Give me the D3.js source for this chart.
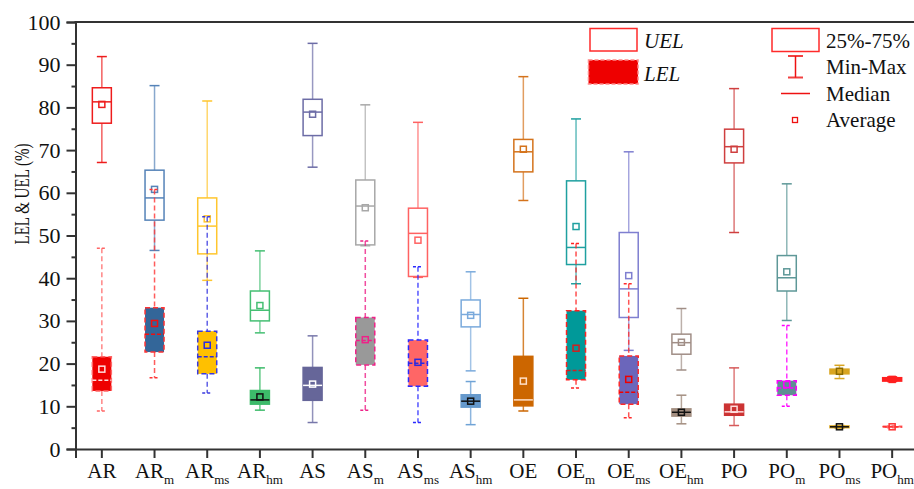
<!DOCTYPE html>
<html lang="en">
<head>
    <meta charset="UTF-8">
    <title>LEL & UEL box plot</title>
    <script src="https://cdnjs.cloudflare.com/ajax/libs/d3/7.8.5/d3.min.js"></script>
    <style>
        body {
            margin: 0;
            background-color: #fff;
        }
        svg text {
            font-family: "Liberation Serif", "Times New Roman", serif;
            fill: #111;
        }
    </style>
</head>
<body>
<svg id="chart" width="914" height="489"></svg>

<script>
// categories (base name + subscript)
const categories = ["AR", "ARm", "ARms", "ARhm", "AS", "ASm", "ASms", "AShm",
                    "OE", "OEm", "OEms", "OEhm", "PO", "POm", "POms", "POhm"];

// UEL statistics (%)
const uelMin    = [67.1, 46.5, 39.5, 27.2, 66.0, 47.6, 40.2, 18.3, 58.2, 38.7, 23.1, 18.5, 50.7, 30.1, 16.5, 15.8];
const uelQ1     = [76.3, 53.6, 45.7, 30.0, 73.4, 47.8, 40.4, 28.6, 64.9, 43.2, 30.8, 22.2, 67.0, 37.0, 17.6, 15.9];
const uelMedian = [81.3, 58.8, 52.2, 32.5, 78.9, 56.9, 50.5, 31.5, 69.6, 47.2, 37.5, 24.9, 70.8, 40.1, 18.2, 16.3];
const uelQ3     = [84.6, 65.3, 58.8, 37.0, 81.9, 63.0, 56.4, 34.9, 72.5, 62.8, 50.7, 26.9, 74.9, 45.3, 18.7, 16.7];
const uelMax    = [91.9, 85.1, 81.5, 46.4, 95.0, 80.6, 76.5, 41.5, 87.2, 77.3, 69.6, 32.9, 84.4, 62.1, 19.6, 16.9];
const uelMean   = [80.7, 60.8, 53.9, 33.6, 78.4, 56.5, 48.9, 31.3, 70.2, 52.1, 40.6, 25.0, 70.2, 41.5, 18.2, 16.3];

// LEL statistics (%)
const lelMin    = [8.9, 16.7, 13.1, 9.1, 6.2, 9.1, 6.2, 5.7, 8.9, 14.3, 7.3, 5.9, 5.5, 10.0, 4.9, 5.0];
const lelQ1     = [13.6, 22.7, 17.6, 10.5, 11.4, 19.7, 14.7, 9.8, 10.1, 16.2, 10.5, 7.7, 7.9, 12.6, 5.0, 5.1];
const lelMedian = [16.1, 26.9, 21.6, 11.5, 14.9, 25.4, 20.1, 11.2, 11.5, 18.4, 13.3, 8.6, 8.7, 14.3, 5.2, 5.2];
const lelQ3     = [21.6, 33.1, 27.6, 13.7, 19.1, 30.8, 25.5, 12.7, 21.7, 32.4, 21.8, 9.4, 10.5, 16.0, 5.4, 5.3];
const lelMax    = [47.0, 60.8, 54.4, 19.0, 26.5, 48.7, 42.7, 15.8, 35.3, 48.1, 38.7, 12.6, 19.0, 28.9, 5.5, 5.4];
const lelMean   = [18.7, 29.4, 24.3, 12.2, 15.2, 25.6, 20.3, 11.2, 15.9, 23.6, 16.3, 8.6, 9.3, 15.1, 5.2, 5.2];

// colours
const uelColor = ["#ee1c1c", "#5583b8", "#ffc62e", "#45bf73", "#6c6ca6", "#a8a8a8", "#ff6262", "#7aaadc",
                  "#d4731c", "#1fa0a0", "#7f7fd0", "#a08e86", "#cf3f3f", "#5e9898", "#d9a521", "#ff2020"];
const lelFill  = ["#ee0000", "#336699", "#ffc000", "#3dbb6a", "#666699", "#999999", "#ff6666", "#6699cc",
                  "#cc6600", "#009999", "#6b66bb", "#a38e80", "#cc3333", "#5f8f93", "#d9a521", "#ff2020"];
const lelLine  = ["#ff6666", "#ff3333", "#3a3ae0", "#3dbb6a", "#7777aa", "#ee2288", "#2a2aff", "#6fa3d6",
                  "#cc6600", "#ff2222", "#ff2a2a", "#a38e80", "#d65a5a", "#ff00ff", "#d9a521", "#ff6666"];
const lelDashed = [true, true, true, false, false, true, true, false,
                   false, true, true, false, false, true, false, true];
const lelMark  = ["#ffdddd", "#ee1111", "#2a2ae0", "#111111", "#ffffff", "#ee2288", "#2a2ae0", "#111111",
                  "#ffe0c8", "#cc2222", "#ee0000", "#111111", "#ffdddd", "#ff00ff", "#111111", "#ff3333"];

const yTicks = d3.range(0, 101, 10);

const svg = d3.select("#chart");
const margin = { top: 22, bottom: 40, left: 75.5 };
const height = 489;

const x = d3.scaleBand().domain(categories).range([margin.left, 918.5]);
const y = d3.scaleLinear().domain([0, 100]).range([height - margin.bottom, margin.top]);
const cx = d => x(d) + x.bandwidth() / 2;
const boxW = 19, capW = 10, meanS = 6;

const rows = categories.map((c, i) => ({
    cat: c,
    uel: { min: uelMin[i], q1: uelQ1[i], med: uelMedian[i], q3: uelQ3[i], max: uelMax[i], mean: uelMean[i] },
    lel: { min: lelMin[i], q1: lelQ1[i], med: lelMedian[i], q3: lelQ3[i], max: lelMax[i], mean: lelMean[i] },
    uc: uelColor[i], lf: lelFill[i], ll: lelLine[i], dash: lelDashed[i], lm: lelMark[i]
}));

// ---- UEL boxes (open) ----
const g = svg.append("g");
rows.forEach(r => {
    const xc = cx(r.cat), s = r.uel;
    const u = g.append("g");
    u.append("line").attr("x1", xc).attr("x2", xc).attr("y1", y(s.max)).attr("y2", y(s.q3))
        .attr("stroke", r.uc).attr("stroke-opacity", 0.7).attr("stroke-width", 1.5);
    u.append("line").attr("x1", xc).attr("x2", xc).attr("y1", y(s.q1)).attr("y2", y(s.min))
        .attr("stroke", r.uc).attr("stroke-opacity", 0.7).attr("stroke-width", 1.5);
    [s.max, s.min].forEach(v => {
        u.append("line").attr("x1", xc - capW / 2).attr("x2", xc + capW / 2).attr("y1", y(v)).attr("y2", y(v))
            .attr("stroke", r.uc).attr("stroke-width", 1.5);
    });
    u.append("rect").attr("x", xc - boxW / 2).attr("y", y(s.q3)).attr("width", boxW)
        .attr("height", Math.max(1, y(s.q1) - y(s.q3)))
        .attr("fill", r.cat === "POms" || r.cat === "POhm" ? r.uc : "none")
        .attr("stroke", r.uc).attr("stroke-width", 1.5);
    u.append("line").attr("x1", xc - boxW / 2).attr("x2", xc + boxW / 2).attr("y1", y(s.med)).attr("y2", y(s.med))
        .attr("stroke", r.uc).attr("stroke-width", 1.5);
    u.append("rect").attr("x", xc - meanS / 2).attr("y", y(s.mean) - meanS / 2).attr("width", meanS).attr("height", meanS)
        .attr("fill", "none").attr("stroke", r.cat === "POms" ? "#8a6a00" : r.uc).attr("stroke-width", 1.5);
});

// ---- LEL boxes (filled) ----
rows.forEach(r => {
    const xc = cx(r.cat), s = r.lel;
    const l = g.append("g");
    const da = r.dash ? "5,3" : null;
    [[s.max, s.q3], [s.q1, s.min]].forEach(([a, b]) => {
        l.append("line").attr("x1", xc).attr("x2", xc).attr("y1", y(a)).attr("y2", y(b))
            .attr("stroke", r.ll).attr("stroke-opacity", 0.8).attr("stroke-width", 1.5)
            .attr("stroke-dasharray", da);
    });
    [s.max, s.min].forEach(v => {
        l.append("line").attr("x1", xc - capW / 2).attr("x2", xc + capW / 2).attr("y1", y(v)).attr("y2", y(v))
            .attr("stroke", r.ll).attr("stroke-width", 1.5).attr("stroke-dasharray", r.dash ? "3,2" : null);
    });
    l.append("rect").attr("x", xc - boxW / 2).attr("y", y(s.q3)).attr("width", boxW)
        .attr("height", Math.max(1, y(s.q1) - y(s.q3)))
        .attr("fill", r.lf).attr("stroke", r.dash ? r.ll : r.lf).attr("stroke-width", 1.5)
        .attr("stroke-dasharray", da);
    l.append("line").attr("x1", xc - boxW / 2).attr("x2", xc + boxW / 2).attr("y1", y(s.med)).attr("y2", y(s.med))
        .attr("stroke", r.lm).attr("stroke-width", 1.5).attr("stroke-dasharray", r.dash ? "4,2" : null);
    l.append("rect").attr("x", xc - meanS / 2).attr("y", y(s.mean) - meanS / 2).attr("width", meanS).attr("height", meanS)
        .attr("fill", "none").attr("stroke", r.lm).attr("stroke-width", 1.5);
});

// ---- axes ----
const axisColor = "#333";
const yAxis = svg.append("g").attr("transform", `translate(${margin.left},0)`)
    .call(d3.axisLeft(y).tickValues(yTicks).tickSize(9).tickPadding(6));
const yMinor = svg.append("g").attr("transform", `translate(${margin.left},0)`)
    .call(d3.axisLeft(y).tickValues(d3.range(5, 100, 10)).tickSize(4).tickFormat(""));
yMinor.select(".domain").remove();
const xAxis = svg.append("g").attr("transform", `translate(0,${y(0)})`)
    .call(d3.axisBottom(x).tickSize(9).tickFormat(""));

[yAxis, yMinor, xAxis].forEach(a => {
    a.selectAll("path, line").attr("stroke", axisColor).attr("stroke-width", 2);
});
yAxis.selectAll("text").attr("font-size", 22).attr("fill", "#111")
    .style("font-family", '"Liberation Serif", serif');

// top frame line
svg.append("line").attr("x1", margin.left - 1).attr("x2", 918.5).attr("y1", y(100)).attr("y2", y(100))
    .attr("stroke", axisColor).attr("stroke-width", 2);

// x labels with subscripts
categories.forEach(c => {
    const t = svg.append("text").attr("x", cx(c)).attr("y", 478)
        .attr("text-anchor", "middle").attr("font-size", 21);
    t.append("tspan").text(c.slice(0, 2));
    if (c.length > 2) {
        t.append("tspan").attr("font-size", 13).attr("dy", 6).text(c.slice(2));
    }
});

// y axis title
svg.append("text")
    .attr("transform", `translate(29,194) rotate(-90)`)
    .attr("text-anchor", "middle")
    .attr("font-size", 20)
    .attr("textLength", 101)
    .attr("lengthAdjust", "spacingAndGlyphs")
    .text("LEL & UEL (%)");

// ---- legend ----
const lg = svg.append("g");
lg.append("rect").attr("x", 590).attr("y", 28.5).attr("width", 47).attr("height", 22.5)
    .attr("fill", "none").attr("stroke", "#ff2a2a").attr("stroke-width", 1.5);
lg.append("text").attr("x", 644).attr("y", 47.5).attr("font-size", 21).attr("font-style", "italic").text("UEL");
lg.append("rect").attr("x", 588.5).attr("y", 60).attr("width", 49.5).attr("height", 24)
    .attr("fill", "#ee0000").attr("stroke", "#ff8888").attr("stroke-width", 1.5).attr("stroke-dasharray", "4,2");
lg.append("text").attr("x", 644).attr("y", 80.5).attr("font-size", 21).attr("font-style", "italic").text("LEL");

lg.append("rect").attr("x", 772).attr("y", 28.5).attr("width", 47).attr("height", 23)
    .attr("fill", "none").attr("stroke", "#ff2a2a").attr("stroke-width", 1.5);
lg.append("text").attr("x", 826).attr("y", 47.5).attr("font-size", 21).text("25%-75%");
lg.append("line").attr("x1", 795.5).attr("x2", 795.5).attr("y1", 56).attr("y2", 77.5)
    .attr("stroke", "#ee1111").attr("stroke-width", 1.5);
[56, 77.5].forEach(v => lg.append("line").attr("x1", 788).attr("x2", 803).attr("y1", v).attr("y2", v)
    .attr("stroke", "#ee1111").attr("stroke-opacity", 0.8).attr("stroke-width", 2));
lg.append("text").attr("x", 826).attr("y", 74).attr("font-size", 21).text("Min-Max");
lg.append("line").attr("x1", 781).attr("x2", 810).attr("y1", 93.5).attr("y2", 93.5)
    .attr("stroke", "#ee1111").attr("stroke-width", 1.5);
lg.append("text").attr("x", 826).attr("y", 101).attr("font-size", 21).text("Median");
lg.append("rect").attr("x", 792.5).attr("y", 117.5).attr("width", 5).attr("height", 5)
    .attr("fill", "none").attr("stroke", "#ee1111").attr("stroke-width", 1.3);
lg.append("text").attr("x", 826).attr("y", 127).attr("font-size", 21).text("Average");
</script>
</body>
</html>
